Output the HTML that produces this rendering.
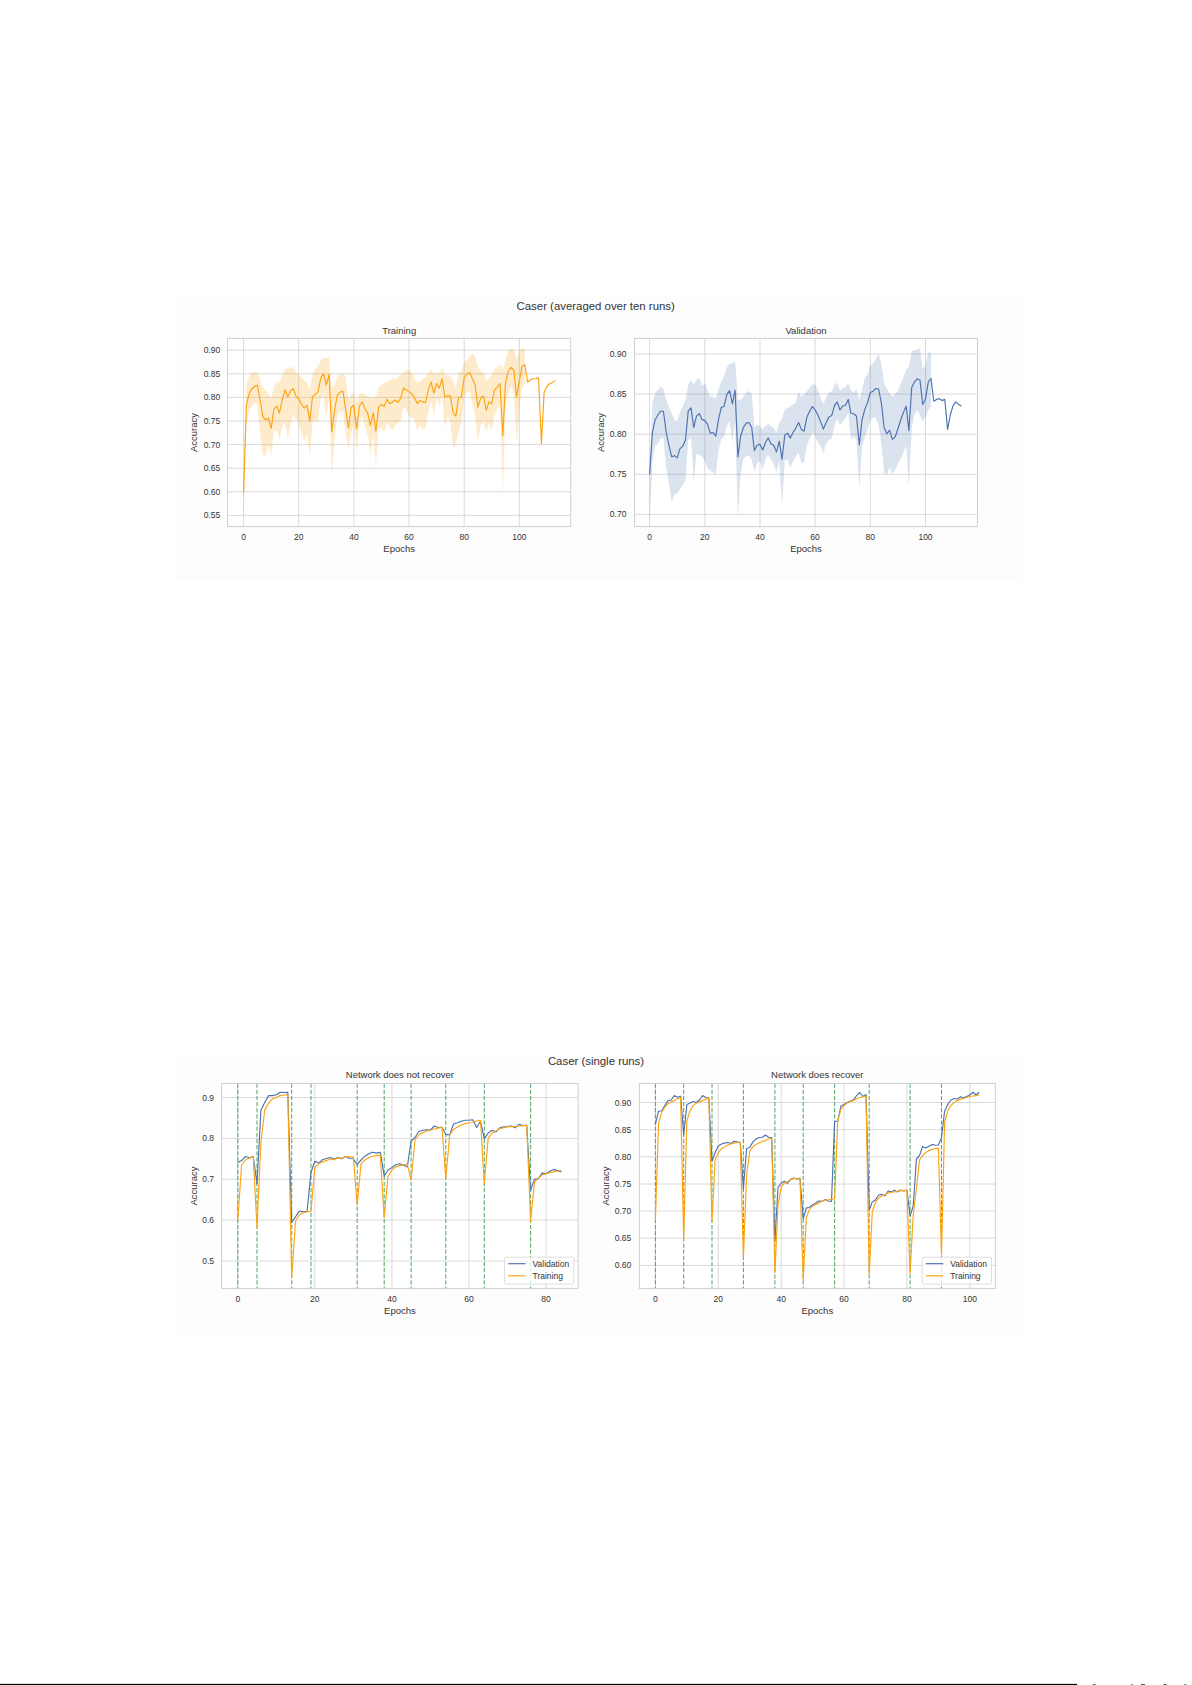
<!DOCTYPE html>
<html><head><meta charset="utf-8"><title>Caser figures</title>
<style>
html,body{margin:0;padding:0;background:#fff;}
body{width:1192px;height:1685px;position:relative;overflow:hidden;font-family:"Liberation Sans",sans-serif;}
svg{position:absolute;left:0;top:0;}
svg text{font-family:"Liberation Sans",sans-serif;}
.rule{position:absolute;left:0;top:1683px;width:1077px;height:2px;background:#000;}
</style></head><body>
<svg width="1192" height="1685" viewBox="0 0 1192 1685">
<rect x="176" y="295" width="847" height="285" fill="#fdfdfd"/>
<rect x="176" y="1056" width="847" height="279" fill="#fdfdfd"/>
<text x="595.7" y="310.2" font-size="11.4" text-anchor="middle" fill="#333333">Caser (averaged over ten runs)</text>
<rect x="227.6" y="338.4" width="343.1" height="188.2" fill="#fff"/>
<line x1="243.6" y1="338.4" x2="243.6" y2="526.6" stroke="#d0d0d0" stroke-width="0.8"/>
<line x1="298.7" y1="338.4" x2="298.7" y2="526.6" stroke="#d0d0d0" stroke-width="0.8"/>
<line x1="353.9" y1="338.4" x2="353.9" y2="526.6" stroke="#d0d0d0" stroke-width="0.8"/>
<line x1="409.0" y1="338.4" x2="409.0" y2="526.6" stroke="#d0d0d0" stroke-width="0.8"/>
<line x1="464.2" y1="338.4" x2="464.2" y2="526.6" stroke="#d0d0d0" stroke-width="0.8"/>
<line x1="519.3" y1="338.4" x2="519.3" y2="526.6" stroke="#d0d0d0" stroke-width="0.8"/>
<line x1="227.6" y1="350.2" x2="570.7" y2="350.2" stroke="#d0d0d0" stroke-width="0.8"/>
<line x1="227.6" y1="373.8" x2="570.7" y2="373.8" stroke="#d0d0d0" stroke-width="0.8"/>
<line x1="227.6" y1="397.4" x2="570.7" y2="397.4" stroke="#d0d0d0" stroke-width="0.8"/>
<line x1="227.6" y1="421.0" x2="570.7" y2="421.0" stroke="#d0d0d0" stroke-width="0.8"/>
<line x1="227.6" y1="444.6" x2="570.7" y2="444.6" stroke="#d0d0d0" stroke-width="0.8"/>
<line x1="227.6" y1="468.2" x2="570.7" y2="468.2" stroke="#d0d0d0" stroke-width="0.8"/>
<line x1="227.6" y1="491.8" x2="570.7" y2="491.8" stroke="#d0d0d0" stroke-width="0.8"/>
<line x1="227.6" y1="515.4" x2="570.7" y2="515.4" stroke="#d0d0d0" stroke-width="0.8"/>
<polygon points="243.6,485.0 246.4,385.0 249.1,376.2 251.9,373.1 254.6,372.2 257.4,372.5 260.1,380.0 262.9,387.5 265.7,390.6 268.4,393.8 271.2,398.8 273.9,387.5 276.7,381.2 279.4,383.1 282.2,375.0 285.0,369.4 287.7,368.1 290.5,367.5 293.2,367.2 296.0,372.5 298.7,375.0 301.5,377.5 304.3,380.0 307.0,382.5 309.8,390.0 312.5,373.8 315.3,368.8 318.0,366.2 320.8,360.0 323.6,358.1 326.3,358.1 329.1,357.2 331.8,387.5 334.6,383.8 337.3,376.2 340.1,374.4 342.9,374.0 345.6,376.2 348.4,400.0 351.1,395.0 353.9,391.9 356.6,402.5 359.4,393.8 362.2,392.5 364.9,394.4 367.7,396.2 370.4,398.8 373.2,397.5 375.9,396.2 378.7,387.5 381.4,385.0 384.2,383.1 387.0,381.9 389.7,380.0 392.5,378.8 395.2,378.8 398.0,376.9 400.7,374.4 403.5,371.9 406.3,370.0 409.0,370.0 411.8,372.5 414.5,378.8 417.3,383.1 420.0,381.2 422.8,378.8 425.6,376.9 428.3,373.1 431.1,369.4 433.8,373.8 436.6,373.1 439.3,373.1 442.1,368.1 444.9,373.8 447.6,375.0 450.4,376.2 453.1,380.6 455.9,387.5 458.6,372.5 461.4,371.2 464.2,361.9 466.9,360.0 469.7,356.2 472.4,353.1 475.2,356.2 477.9,367.5 480.7,371.2 483.5,372.5 486.2,381.2 489.0,377.5 491.7,375.0 494.5,368.8 497.2,367.5 500.0,364.4 502.8,370.0 505.5,360.0 508.3,351.2 511.0,348.8 513.8,348.8 516.5,358.8 519.3,351.2 522.1,348.1 524.8,348.1 524.8,383.8 522.1,387.5 519.3,410.0 516.5,441.2 513.8,393.8 511.0,386.9 508.3,392.5 505.5,407.5 502.8,491.2 500.0,405.0 497.2,410.0 494.5,415.0 491.7,430.0 489.0,422.5 486.2,431.9 483.5,421.2 480.7,425.0 477.9,441.9 475.2,416.2 472.4,403.8 469.7,391.9 466.9,392.5 464.2,397.5 461.4,422.5 458.6,431.2 455.9,443.8 453.1,448.8 450.4,422.5 447.6,416.2 444.9,428.1 442.1,395.0 439.3,406.2 436.6,397.5 433.8,415.0 431.1,400.0 428.3,411.2 425.6,427.5 422.8,430.0 420.0,425.0 417.3,430.6 414.5,420.0 411.8,417.5 409.0,416.2 406.3,410.0 403.5,406.2 400.7,421.2 398.0,422.5 395.2,425.0 392.5,431.2 389.7,426.2 387.0,422.5 384.2,432.5 381.4,427.5 378.7,428.1 375.9,466.2 373.2,435.0 370.4,455.6 367.7,435.0 364.9,426.2 362.2,416.2 359.4,422.5 356.6,452.5 353.9,422.5 351.1,433.8 348.4,448.8 345.6,433.8 342.9,411.2 340.1,411.2 337.3,415.0 334.6,438.8 331.8,476.2 329.1,395.0 326.3,417.5 323.6,396.2 320.8,397.5 318.0,422.5 315.3,421.2 312.5,422.5 309.8,455.6 307.0,433.8 304.3,441.2 301.5,433.8 298.7,422.5 296.0,420.0 293.2,413.8 290.5,425.0 287.7,438.8 285.0,421.2 282.2,427.5 279.4,439.4 276.7,430.0 273.9,431.2 271.2,455.6 268.4,443.8 265.7,455.6 262.9,455.6 260.1,435.0 257.4,405.0 254.6,403.1 251.9,406.2 249.1,411.2 246.4,425.0 243.6,522.5" fill="#fca311" fill-opacity="0.22"/>
<polyline points="243.6,491.9 246.4,405.0 249.1,393.8 251.9,388.8 254.6,386.5 257.4,385.2 260.1,400.0 262.9,416.9 265.7,420.0 268.4,418.1 271.2,428.5 273.9,408.8 276.7,406.2 279.4,413.1 282.2,400.0 285.0,389.8 287.7,396.9 290.5,391.2 293.2,388.5 296.0,396.2 298.7,398.8 301.5,404.4 304.3,408.1 307.0,405.2 309.8,421.2 312.5,396.9 315.3,394.4 318.0,391.9 320.8,378.1 323.6,373.8 326.3,385.0 329.1,374.4 331.8,431.9 334.6,410.0 337.3,395.0 340.1,392.2 342.9,391.0 345.6,408.8 348.4,427.8 351.1,407.5 353.9,405.2 356.6,428.8 359.4,406.2 362.2,401.9 364.9,408.8 367.7,413.1 370.4,425.6 373.2,412.5 375.9,431.2 378.7,406.9 381.4,404.4 384.2,406.2 387.0,399.4 389.7,403.8 392.5,401.9 395.2,400.0 398.0,402.5 400.7,398.1 403.5,388.1 406.3,390.0 409.0,391.9 411.8,393.8 414.5,398.1 417.3,403.5 420.0,400.6 422.8,401.9 425.6,402.5 428.3,390.0 431.1,381.9 433.8,393.1 436.6,383.5 439.3,388.1 442.1,378.8 444.9,397.5 447.6,395.6 450.4,396.0 453.1,412.5 455.9,416.2 458.6,397.5 461.4,396.9 464.2,377.5 466.9,374.0 469.7,372.5 472.4,378.8 475.2,385.0 477.9,407.2 480.7,398.1 483.5,396.0 486.2,410.2 489.0,401.9 491.7,403.8 494.5,390.0 497.2,387.5 500.0,383.5 502.8,435.6 505.5,383.1 508.3,371.2 511.0,367.2 513.8,370.0 516.5,396.9 519.3,381.2 522.1,366.2 524.8,364.8 527.6,382.2 530.3,380.0 533.1,378.8 535.8,378.5 538.6,378.1 541.4,443.8 544.1,392.5 546.9,386.2 549.6,383.8 552.4,382.5 555.1,380.6" fill="none" stroke="#fca311" stroke-width="1.15" stroke-linejoin="round"/>
<rect x="227.6" y="338.4" width="343.1" height="188.2" fill="none" stroke="#cfcfcf" stroke-width="1"/>
<text x="243.6" y="540.2" font-size="8.5" text-anchor="middle" fill="#333333">0</text>
<text x="298.7" y="540.2" font-size="8.5" text-anchor="middle" fill="#333333">20</text>
<text x="353.9" y="540.2" font-size="8.5" text-anchor="middle" fill="#333333">40</text>
<text x="409.0" y="540.2" font-size="8.5" text-anchor="middle" fill="#333333">60</text>
<text x="464.2" y="540.2" font-size="8.5" text-anchor="middle" fill="#333333">80</text>
<text x="519.3" y="540.2" font-size="8.5" text-anchor="middle" fill="#333333">100</text>
<text x="220.2" y="353.2" font-size="8.5" text-anchor="end" fill="#333333">0.90</text>
<text x="220.2" y="376.8" font-size="8.5" text-anchor="end" fill="#333333">0.85</text>
<text x="220.2" y="400.4" font-size="8.5" text-anchor="end" fill="#333333">0.80</text>
<text x="220.2" y="424.0" font-size="8.5" text-anchor="end" fill="#333333">0.75</text>
<text x="220.2" y="447.6" font-size="8.5" text-anchor="end" fill="#333333">0.70</text>
<text x="220.2" y="471.1" font-size="8.5" text-anchor="end" fill="#333333">0.65</text>
<text x="220.2" y="494.7" font-size="8.5" text-anchor="end" fill="#333333">0.60</text>
<text x="220.2" y="518.3" font-size="8.5" text-anchor="end" fill="#333333">0.55</text>
<text x="399.2" y="333.6" font-size="9.5" text-anchor="middle" fill="#333333">Training</text>
<text x="399.2" y="551.9" font-size="9.5" text-anchor="middle" fill="#333333">Epochs</text>
<text transform="translate(196.9,432.5) rotate(-90)" font-size="9.5" text-anchor="middle" fill="#333333">Accuracy</text>
<rect x="634.6" y="338.4" width="342.9" height="188.2" fill="#fff"/>
<line x1="649.6" y1="338.4" x2="649.6" y2="526.6" stroke="#d0d0d0" stroke-width="0.8"/>
<line x1="704.8" y1="338.4" x2="704.8" y2="526.6" stroke="#d0d0d0" stroke-width="0.8"/>
<line x1="760.0" y1="338.4" x2="760.0" y2="526.6" stroke="#d0d0d0" stroke-width="0.8"/>
<line x1="815.1" y1="338.4" x2="815.1" y2="526.6" stroke="#d0d0d0" stroke-width="0.8"/>
<line x1="870.3" y1="338.4" x2="870.3" y2="526.6" stroke="#d0d0d0" stroke-width="0.8"/>
<line x1="925.5" y1="338.4" x2="925.5" y2="526.6" stroke="#d0d0d0" stroke-width="0.8"/>
<line x1="634.6" y1="354.0" x2="977.5" y2="354.0" stroke="#d0d0d0" stroke-width="0.8"/>
<line x1="634.6" y1="394.1" x2="977.5" y2="394.1" stroke="#d0d0d0" stroke-width="0.8"/>
<line x1="634.6" y1="434.2" x2="977.5" y2="434.2" stroke="#d0d0d0" stroke-width="0.8"/>
<line x1="634.6" y1="474.3" x2="977.5" y2="474.3" stroke="#d0d0d0" stroke-width="0.8"/>
<line x1="634.6" y1="514.4" x2="977.5" y2="514.4" stroke="#d0d0d0" stroke-width="0.8"/>
<polygon points="649.6,471.2 652.4,402.5 655.1,393.1 657.9,390.0 660.6,386.6 663.4,388.8 666.2,400.0 668.9,406.9 671.7,413.1 674.4,420.0 677.2,421.2 679.9,412.5 682.7,406.2 685.5,400.0 688.2,385.0 691.0,380.2 693.7,384.4 696.5,380.0 699.3,378.1 702.0,385.6 704.8,383.8 707.5,390.0 710.3,396.2 713.1,396.9 715.8,398.8 718.6,388.8 721.3,381.2 724.1,376.2 726.9,367.5 729.6,363.5 732.4,363.5 735.1,361.0 737.9,400.0 740.6,399.4 743.4,396.9 746.2,391.9 748.9,391.2 751.7,393.1 754.4,427.5 757.2,424.4 760.0,426.2 762.7,428.8 765.5,426.2 768.2,424.0 771.0,426.2 773.8,428.1 776.5,432.5 779.3,422.5 782.0,418.8 784.8,409.4 787.5,408.1 790.3,406.2 793.1,404.4 795.8,402.5 798.6,391.2 801.3,396.9 804.1,394.4 806.9,391.2 809.6,387.5 812.4,384.4 815.1,384.4 817.9,390.0 820.7,398.8 823.4,403.8 826.2,397.5 828.9,392.5 831.7,391.2 834.5,385.0 837.2,382.5 840.0,390.0 842.7,388.8 845.5,386.9 848.2,383.1 851.0,390.0 853.8,393.1 856.5,388.8 859.3,400.0 862.0,390.0 864.8,377.5 867.6,375.0 870.3,365.6 873.1,363.8 875.8,358.8 878.6,353.8 881.4,363.8 884.1,383.8 886.9,388.8 889.6,393.1 892.4,396.9 895.2,393.8 897.9,391.2 900.7,383.8 903.4,377.5 906.2,369.4 908.9,366.9 911.7,351.2 914.5,350.0 917.2,349.4 920.0,348.1 922.7,368.8 925.5,365.0 928.3,352.5 931.0,352.5 931.0,406.2 928.3,410.0 925.5,417.5 922.7,421.2 920.0,415.0 917.2,410.0 914.5,415.0 911.7,427.5 908.9,486.2 906.2,445.0 903.4,452.5 900.7,458.8 897.9,463.8 895.2,470.0 892.4,473.8 889.6,467.5 886.9,475.6 884.1,472.5 881.4,443.8 878.6,425.0 875.8,418.1 873.1,417.5 870.3,420.0 867.6,430.0 864.8,437.5 862.0,447.5 859.3,488.8 856.5,440.0 853.8,436.2 851.0,440.0 848.2,413.1 845.5,418.1 842.7,421.2 840.0,425.0 837.2,418.8 834.5,425.0 831.7,438.8 828.9,440.0 826.2,443.8 823.4,453.1 820.7,446.2 817.9,442.5 815.1,436.2 812.4,432.5 809.6,438.8 806.9,445.0 804.1,462.5 801.3,462.5 798.6,453.1 795.8,456.2 793.1,461.2 790.3,467.5 787.5,460.0 784.8,460.0 782.0,506.2 779.3,461.2 776.5,472.5 773.8,463.8 771.0,460.0 768.2,455.0 765.5,458.8 762.7,469.4 760.0,461.2 757.2,462.5 754.4,471.9 751.7,460.0 748.9,455.6 746.2,456.2 743.4,458.8 740.6,473.8 737.9,517.5 735.1,421.2 732.4,442.5 729.6,421.2 726.9,426.2 724.1,436.9 721.3,438.8 718.6,450.0 715.8,473.8 713.1,472.5 710.3,470.6 707.5,467.5 704.8,461.2 702.0,456.2 699.3,455.0 696.5,453.8 693.7,481.2 691.0,437.5 688.2,440.0 685.5,480.6 682.7,485.0 679.9,489.4 677.2,493.1 674.4,494.4 671.7,502.5 668.9,482.5 666.2,467.5 663.4,437.5 660.6,438.8 657.9,443.8 655.1,446.2 652.4,461.2 649.6,522.5" fill="#4c72b0" fill-opacity="0.2"/>
<polyline points="649.6,474.4 652.4,432.5 655.1,420.0 657.9,415.0 660.6,411.2 663.4,411.2 666.2,432.5 668.9,445.0 671.7,456.9 674.4,455.6 677.2,457.9 679.9,448.8 682.7,446.2 685.5,440.0 688.2,411.2 691.0,407.9 693.7,427.5 696.5,416.2 699.3,413.5 702.0,419.4 704.8,420.6 707.5,424.4 710.3,433.1 713.1,432.5 715.8,436.2 718.6,418.8 721.3,407.5 724.1,406.2 726.9,394.4 729.6,390.6 732.4,403.8 735.1,390.0 737.9,456.9 740.6,436.2 743.4,427.5 746.2,423.1 748.9,422.5 751.7,427.5 754.4,450.6 757.2,445.0 760.0,444.4 762.7,450.0 765.5,442.5 768.2,437.8 771.0,443.8 773.8,445.6 776.5,451.9 779.3,441.2 782.0,459.4 784.8,435.0 787.5,433.1 790.3,438.1 793.1,432.5 795.8,428.1 798.6,422.5 801.3,429.4 804.1,431.2 806.9,416.9 809.6,411.2 812.4,406.5 815.1,410.0 817.9,415.0 820.7,421.9 823.4,429.0 826.2,422.5 828.9,416.9 831.7,415.6 834.5,405.6 837.2,401.9 840.0,410.0 842.7,406.0 845.5,405.2 848.2,399.4 851.0,413.5 853.8,413.8 856.5,416.2 859.3,445.0 862.0,420.0 864.8,409.4 867.6,402.5 870.3,392.5 873.1,391.2 875.8,388.5 878.6,389.0 881.4,403.1 884.1,427.5 886.9,433.8 889.6,430.2 892.4,439.4 895.2,436.9 897.9,428.8 900.7,420.0 903.4,412.5 906.2,406.2 908.9,430.6 911.7,387.5 914.5,381.9 917.2,378.8 920.0,380.2 922.7,404.4 925.5,398.8 928.3,381.9 931.0,378.5 933.8,401.2 936.5,399.4 939.3,398.8 942.1,400.6 944.8,399.4 947.6,429.4 950.3,415.0 953.1,405.6 955.8,401.9 958.6,404.4 961.4,406.0" fill="none" stroke="#4c72b0" stroke-width="1.15" stroke-linejoin="round"/>
<rect x="634.6" y="338.4" width="342.9" height="188.2" fill="none" stroke="#cfcfcf" stroke-width="1"/>
<text x="649.6" y="540.2" font-size="8.5" text-anchor="middle" fill="#333333">0</text>
<text x="704.8" y="540.2" font-size="8.5" text-anchor="middle" fill="#333333">20</text>
<text x="760.0" y="540.2" font-size="8.5" text-anchor="middle" fill="#333333">40</text>
<text x="815.1" y="540.2" font-size="8.5" text-anchor="middle" fill="#333333">60</text>
<text x="870.3" y="540.2" font-size="8.5" text-anchor="middle" fill="#333333">80</text>
<text x="925.5" y="540.2" font-size="8.5" text-anchor="middle" fill="#333333">100</text>
<text x="626.4" y="356.9" font-size="8.5" text-anchor="end" fill="#333333">0.90</text>
<text x="626.4" y="397.1" font-size="8.5" text-anchor="end" fill="#333333">0.85</text>
<text x="626.4" y="437.1" font-size="8.5" text-anchor="end" fill="#333333">0.80</text>
<text x="626.4" y="477.2" font-size="8.5" text-anchor="end" fill="#333333">0.75</text>
<text x="626.4" y="517.4" font-size="8.5" text-anchor="end" fill="#333333">0.70</text>
<text x="806.0" y="333.6" font-size="9.5" text-anchor="middle" fill="#333333">Validation</text>
<text x="806.0" y="551.9" font-size="9.5" text-anchor="middle" fill="#333333">Epochs</text>
<text transform="translate(604.3,432.5) rotate(-90)" font-size="9.5" text-anchor="middle" fill="#333333">Accuracy</text>
<text x="596" y="1065.2" font-size="11.4" text-anchor="middle" fill="#333333">Caser (single runs)</text>
<rect x="221.6" y="1083.5" width="356.5" height="204.9" fill="#fff"/>
<line x1="237.8" y1="1083.5" x2="237.8" y2="1288.4" stroke="#d0d0d0" stroke-width="0.8"/>
<line x1="314.8" y1="1083.5" x2="314.8" y2="1288.4" stroke="#d0d0d0" stroke-width="0.8"/>
<line x1="391.9" y1="1083.5" x2="391.9" y2="1288.4" stroke="#d0d0d0" stroke-width="0.8"/>
<line x1="468.9" y1="1083.5" x2="468.9" y2="1288.4" stroke="#d0d0d0" stroke-width="0.8"/>
<line x1="546.0" y1="1083.5" x2="546.0" y2="1288.4" stroke="#d0d0d0" stroke-width="0.8"/>
<line x1="221.6" y1="1097.5" x2="578.1" y2="1097.5" stroke="#d0d0d0" stroke-width="0.8"/>
<line x1="221.6" y1="1138.4" x2="578.1" y2="1138.4" stroke="#d0d0d0" stroke-width="0.8"/>
<line x1="221.6" y1="1179.3" x2="578.1" y2="1179.3" stroke="#d0d0d0" stroke-width="0.8"/>
<line x1="221.6" y1="1220.1" x2="578.1" y2="1220.1" stroke="#d0d0d0" stroke-width="0.8"/>
<line x1="221.6" y1="1261.0" x2="578.1" y2="1261.0" stroke="#d0d0d0" stroke-width="0.8"/>
<line x1="237.8" y1="1083.5" x2="237.8" y2="1288.4" stroke="#55a868" stroke-width="1.05" stroke-dasharray="4.3 1.85"/>
<line x1="257.0" y1="1083.5" x2="257.0" y2="1288.4" stroke="#55a868" stroke-width="1.05" stroke-dasharray="4.3 1.85"/>
<line x1="291.7" y1="1083.5" x2="291.7" y2="1288.4" stroke="#55a868" stroke-width="1.05" stroke-dasharray="4.3 1.85"/>
<line x1="311.0" y1="1083.5" x2="311.0" y2="1288.4" stroke="#55a868" stroke-width="1.05" stroke-dasharray="4.3 1.85"/>
<line x1="357.2" y1="1083.5" x2="357.2" y2="1288.4" stroke="#55a868" stroke-width="1.05" stroke-dasharray="4.3 1.85"/>
<line x1="384.2" y1="1083.5" x2="384.2" y2="1288.4" stroke="#55a868" stroke-width="1.05" stroke-dasharray="4.3 1.85"/>
<line x1="411.1" y1="1083.5" x2="411.1" y2="1288.4" stroke="#55a868" stroke-width="1.05" stroke-dasharray="4.3 1.85"/>
<line x1="445.8" y1="1083.5" x2="445.8" y2="1288.4" stroke="#55a868" stroke-width="1.05" stroke-dasharray="4.3 1.85"/>
<line x1="484.3" y1="1083.5" x2="484.3" y2="1288.4" stroke="#55a868" stroke-width="1.05" stroke-dasharray="4.3 1.85"/>
<line x1="530.6" y1="1083.5" x2="530.6" y2="1288.4" stroke="#55a868" stroke-width="1.05" stroke-dasharray="4.3 1.85"/>
<polyline points="237.8,1162.5 241.6,1160.6 245.5,1156.5 249.3,1157.8 253.2,1156.5 257.0,1183.8 260.9,1110.6 264.7,1102.5 268.6,1095.6 272.4,1095.6 276.3,1094.8 280.1,1092.2 284.0,1092.5 287.8,1092.2 291.7,1222.5 295.5,1216.9 299.4,1211.0 303.3,1211.9 307.1,1211.2 311.0,1172.5 314.8,1161.2 318.7,1163.1 322.5,1159.8 326.4,1158.5 330.2,1157.5 334.1,1159.0 337.9,1157.5 341.8,1158.8 345.6,1156.5 349.5,1158.5 353.3,1158.8 357.2,1164.4 361.0,1160.0 364.9,1156.2 368.8,1153.8 372.6,1152.2 376.5,1153.1 380.3,1152.2 384.2,1176.2 388.0,1170.0 391.9,1167.5 395.7,1164.8 399.6,1163.8 403.4,1165.0 407.3,1166.9 411.1,1141.2 415.0,1137.5 418.8,1131.5 422.7,1130.2 426.5,1129.8 430.4,1130.0 434.3,1126.0 438.1,1127.5 442.0,1127.2 445.8,1134.4 449.7,1135.0 453.5,1124.0 457.4,1122.8 461.2,1121.2 465.1,1120.2 468.9,1120.2 472.8,1119.8 476.6,1127.5 480.5,1121.2 484.3,1138.8 488.2,1133.1 492.0,1130.2 495.9,1131.9 499.8,1127.8 503.6,1126.9 507.5,1126.5 511.3,1126.0 515.2,1127.8 519.0,1124.4 522.9,1125.6 526.7,1125.2 530.6,1190.0 534.4,1179.4 538.3,1178.8 542.1,1173.1 546.0,1173.8 549.8,1171.2 553.7,1169.4 557.5,1170.6 561.4,1171.9" fill="none" stroke="#4c72b0" stroke-width="1.15" stroke-linejoin="round"/>
<polyline points="237.8,1220.0 241.6,1165.0 245.5,1160.0 249.3,1158.1 253.2,1156.5 257.0,1227.5 260.9,1142.5 264.7,1110.0 268.6,1103.1 272.4,1098.8 276.3,1097.5 280.1,1095.6 284.0,1095.0 287.8,1094.4 291.7,1277.5 295.5,1221.2 299.4,1215.0 303.3,1212.5 307.1,1211.9 311.0,1211.2 314.8,1167.5 318.7,1163.8 322.5,1161.9 326.4,1160.6 330.2,1159.0 334.1,1159.8 337.9,1158.1 341.8,1158.1 345.6,1156.5 349.5,1156.9 353.3,1156.9 357.2,1204.4 361.0,1163.8 364.9,1160.0 368.8,1157.5 372.6,1156.2 376.5,1155.6 380.3,1155.0 384.2,1217.5 388.0,1176.2 391.9,1170.0 395.7,1166.9 399.6,1165.6 403.4,1165.0 407.3,1164.4 411.1,1180.0 415.0,1140.0 418.8,1135.0 422.7,1132.5 426.5,1131.2 430.4,1130.2 434.3,1129.0 438.1,1128.1 442.0,1127.2 445.8,1178.8 449.7,1135.0 453.5,1129.4 457.4,1126.9 461.2,1125.0 465.1,1123.8 468.9,1122.8 472.8,1122.5 476.6,1121.0 480.5,1120.2 484.3,1183.8 488.2,1138.1 492.0,1133.1 495.9,1131.0 499.8,1128.8 503.6,1127.8 507.5,1126.9 511.3,1126.5 515.2,1126.8 519.0,1126.0 522.9,1125.6 526.7,1125.2 530.6,1221.2 534.4,1182.5 538.3,1178.1 542.1,1175.0 546.0,1173.8 549.8,1172.8 553.7,1171.9 557.5,1171.0 561.4,1170.6" fill="none" stroke="#fca311" stroke-width="1.15" stroke-linejoin="round"/>
<rect x="504.5" y="1257.2" width="69.3" height="26.9" rx="1.5" fill="#fff" fill-opacity="0.8" stroke="#d6d6d6" stroke-width="0.8"/>
<line x1="508.1" y1="1263.7" x2="525.6" y2="1263.7" stroke="#4c72b0" stroke-width="1.15"/>
<line x1="508.1" y1="1275.8" x2="525.6" y2="1275.8" stroke="#fca311" stroke-width="1.15"/>
<text x="532.5" y="1266.8" font-size="8.5" fill="#333333">Validation</text>
<text x="532.5" y="1278.9" font-size="8.5" fill="#333333">Training</text>
<rect x="221.6" y="1083.5" width="356.5" height="204.9" fill="none" stroke="#cfcfcf" stroke-width="1"/>
<text x="237.8" y="1302.0" font-size="8.5" text-anchor="middle" fill="#333333">0</text>
<text x="314.8" y="1302.0" font-size="8.5" text-anchor="middle" fill="#333333">20</text>
<text x="391.9" y="1302.0" font-size="8.5" text-anchor="middle" fill="#333333">40</text>
<text x="468.9" y="1302.0" font-size="8.5" text-anchor="middle" fill="#333333">60</text>
<text x="546.0" y="1302.0" font-size="8.5" text-anchor="middle" fill="#333333">80</text>
<text x="214.1" y="1100.5" font-size="8.5" text-anchor="end" fill="#333333">0.9</text>
<text x="214.1" y="1141.3" font-size="8.5" text-anchor="end" fill="#333333">0.8</text>
<text x="214.1" y="1182.2" font-size="8.5" text-anchor="end" fill="#333333">0.7</text>
<text x="214.1" y="1223.1" font-size="8.5" text-anchor="end" fill="#333333">0.6</text>
<text x="214.1" y="1264.0" font-size="8.5" text-anchor="end" fill="#333333">0.5</text>
<text x="399.9" y="1078.2" font-size="9.5" text-anchor="middle" fill="#333333">Network does not recover</text>
<text x="399.9" y="1313.7" font-size="9.5" text-anchor="middle" fill="#333333">Epochs</text>
<text transform="translate(196.9,1186.0) rotate(-90)" font-size="9.5" text-anchor="middle" fill="#333333">Accuracy</text>
<rect x="639.4" y="1083.5" width="355.9" height="204.9" fill="#fff"/>
<line x1="655.4" y1="1083.5" x2="655.4" y2="1288.4" stroke="#d0d0d0" stroke-width="0.8"/>
<line x1="718.3" y1="1083.5" x2="718.3" y2="1288.4" stroke="#d0d0d0" stroke-width="0.8"/>
<line x1="781.2" y1="1083.5" x2="781.2" y2="1288.4" stroke="#d0d0d0" stroke-width="0.8"/>
<line x1="844.0" y1="1083.5" x2="844.0" y2="1288.4" stroke="#d0d0d0" stroke-width="0.8"/>
<line x1="906.9" y1="1083.5" x2="906.9" y2="1288.4" stroke="#d0d0d0" stroke-width="0.8"/>
<line x1="969.8" y1="1083.5" x2="969.8" y2="1288.4" stroke="#d0d0d0" stroke-width="0.8"/>
<line x1="639.4" y1="1102.5" x2="995.3" y2="1102.5" stroke="#d0d0d0" stroke-width="0.8"/>
<line x1="639.4" y1="1129.7" x2="995.3" y2="1129.7" stroke="#d0d0d0" stroke-width="0.8"/>
<line x1="639.4" y1="1156.8" x2="995.3" y2="1156.8" stroke="#d0d0d0" stroke-width="0.8"/>
<line x1="639.4" y1="1184.0" x2="995.3" y2="1184.0" stroke="#d0d0d0" stroke-width="0.8"/>
<line x1="639.4" y1="1211.1" x2="995.3" y2="1211.1" stroke="#d0d0d0" stroke-width="0.8"/>
<line x1="639.4" y1="1238.2" x2="995.3" y2="1238.2" stroke="#d0d0d0" stroke-width="0.8"/>
<line x1="639.4" y1="1265.4" x2="995.3" y2="1265.4" stroke="#d0d0d0" stroke-width="0.8"/>
<line x1="655.4" y1="1083.5" x2="655.4" y2="1288.4" stroke="#55a868" stroke-width="1.05" stroke-dasharray="4.3 1.85"/>
<line x1="683.7" y1="1083.5" x2="683.7" y2="1288.4" stroke="#55a868" stroke-width="1.05" stroke-dasharray="4.3 1.85"/>
<line x1="712.0" y1="1083.5" x2="712.0" y2="1288.4" stroke="#55a868" stroke-width="1.05" stroke-dasharray="4.3 1.85"/>
<line x1="743.4" y1="1083.5" x2="743.4" y2="1288.4" stroke="#55a868" stroke-width="1.05" stroke-dasharray="4.3 1.85"/>
<line x1="774.9" y1="1083.5" x2="774.9" y2="1288.4" stroke="#55a868" stroke-width="1.05" stroke-dasharray="4.3 1.85"/>
<line x1="803.2" y1="1083.5" x2="803.2" y2="1288.4" stroke="#55a868" stroke-width="1.05" stroke-dasharray="4.3 1.85"/>
<line x1="834.6" y1="1083.5" x2="834.6" y2="1288.4" stroke="#55a868" stroke-width="1.05" stroke-dasharray="4.3 1.85"/>
<line x1="869.2" y1="1083.5" x2="869.2" y2="1288.4" stroke="#55a868" stroke-width="1.05" stroke-dasharray="4.3 1.85"/>
<line x1="910.1" y1="1083.5" x2="910.1" y2="1288.4" stroke="#55a868" stroke-width="1.05" stroke-dasharray="4.3 1.85"/>
<line x1="941.5" y1="1083.5" x2="941.5" y2="1288.4" stroke="#55a868" stroke-width="1.05" stroke-dasharray="4.3 1.85"/>
<polyline points="655.4,1124.4 658.5,1111.2 661.7,1111.0 664.8,1105.6 668.0,1100.6 671.1,1100.0 674.3,1095.6 677.4,1097.2 680.6,1096.2 683.7,1135.0 686.8,1104.8 690.0,1103.1 693.1,1101.5 696.3,1102.5 699.4,1100.0 702.6,1095.6 705.7,1097.5 708.8,1098.1 712.0,1161.2 715.1,1152.5 718.3,1146.0 721.4,1144.0 724.6,1143.1 727.7,1142.5 730.9,1143.5 734.0,1141.2 737.1,1141.9 740.3,1142.5 743.4,1188.8 746.6,1148.5 749.7,1147.5 752.9,1141.9 756.0,1139.0 759.2,1137.5 762.3,1137.2 765.4,1135.0 768.6,1137.2 771.7,1137.5 774.9,1241.2 778.0,1187.5 781.2,1183.1 784.3,1181.2 787.4,1183.5 790.6,1179.4 793.7,1178.1 796.9,1179.0 800.0,1178.1 803.2,1218.8 806.3,1208.1 809.5,1207.2 812.6,1204.8 815.7,1203.1 818.9,1201.0 822.0,1201.2 825.2,1199.4 828.3,1201.0 831.5,1201.5 834.6,1121.2 837.8,1121.2 840.9,1106.0 844.0,1104.4 847.2,1102.5 850.3,1101.0 853.5,1099.8 856.6,1095.6 859.8,1092.5 862.9,1096.5 866.0,1094.4 869.2,1210.0 872.3,1201.9 875.5,1200.0 878.6,1195.0 881.8,1194.4 884.9,1196.0 888.1,1191.0 891.2,1191.9 894.3,1190.2 897.5,1191.9 900.6,1190.0 903.8,1191.0 906.9,1190.2 910.1,1215.6 913.2,1206.2 916.4,1159.0 919.5,1155.6 922.6,1146.5 925.8,1148.1 928.9,1146.2 932.1,1144.4 935.2,1145.2 938.4,1145.0 941.5,1137.5 944.6,1111.2 947.8,1104.4 950.9,1100.0 954.1,1098.5 957.2,1099.0 960.4,1096.9 963.5,1097.8 966.7,1096.5 969.8,1095.0 972.9,1092.2 976.1,1095.0 979.2,1092.2" fill="none" stroke="#4c72b0" stroke-width="1.15" stroke-linejoin="round"/>
<polyline points="655.4,1220.4 658.5,1123.8 661.7,1112.2 664.8,1107.2 668.0,1103.8 671.1,1101.9 674.3,1100.6 677.4,1098.8 680.6,1097.5 683.7,1240.0 686.8,1121.2 690.0,1110.6 693.1,1105.6 696.3,1103.1 699.4,1101.9 702.6,1100.6 705.7,1099.4 708.8,1097.5 712.0,1221.2 715.1,1160.0 718.3,1152.5 721.4,1148.8 724.6,1146.9 727.7,1145.0 730.9,1144.0 734.0,1143.1 737.1,1142.5 740.3,1142.2 743.4,1257.5 746.6,1175.0 749.7,1151.2 752.9,1146.9 756.0,1144.4 759.2,1142.8 762.3,1141.5 765.4,1140.6 768.6,1139.0 771.7,1138.5 774.9,1272.5 778.0,1205.0 781.2,1186.9 784.3,1183.1 787.4,1181.9 790.6,1179.4 793.7,1178.5 796.9,1178.8 800.0,1178.8 803.2,1280.0 806.3,1217.5 809.5,1209.4 812.6,1206.2 815.7,1204.4 818.9,1203.1 822.0,1201.2 825.2,1200.0 828.3,1199.8 831.5,1199.4 834.6,1198.8 837.8,1120.6 840.9,1109.4 844.0,1105.6 847.2,1103.1 850.3,1101.5 853.5,1100.6 856.6,1098.8 859.8,1097.5 862.9,1096.9 866.0,1096.0 869.2,1275.0 872.3,1211.2 875.5,1202.5 878.6,1198.1 881.8,1196.0 884.9,1194.8 888.1,1193.1 891.2,1192.2 894.3,1191.9 897.5,1191.2 900.6,1190.6 903.8,1190.6 906.9,1190.2 910.1,1273.1 913.2,1215.0 916.4,1188.8 919.5,1160.0 922.6,1155.6 925.8,1152.5 928.9,1150.6 932.1,1149.4 935.2,1148.5 938.4,1148.1 941.5,1255.0 944.6,1122.5 947.8,1110.6 950.9,1105.6 954.1,1102.5 957.2,1100.6 960.4,1099.4 963.5,1098.5 966.7,1097.5 969.8,1096.5 972.9,1096.0 976.1,1095.6 979.2,1095.0" fill="none" stroke="#fca311" stroke-width="1.15" stroke-linejoin="round"/>
<rect x="922.2" y="1257.2" width="69.3" height="26.9" rx="1.5" fill="#fff" fill-opacity="0.8" stroke="#d6d6d6" stroke-width="0.8"/>
<line x1="925.8" y1="1263.7" x2="943.3" y2="1263.7" stroke="#4c72b0" stroke-width="1.15"/>
<line x1="925.8" y1="1275.8" x2="943.3" y2="1275.8" stroke="#fca311" stroke-width="1.15"/>
<text x="950.2" y="1266.8" font-size="8.5" fill="#333333">Validation</text>
<text x="950.2" y="1278.9" font-size="8.5" fill="#333333">Training</text>
<rect x="639.4" y="1083.5" width="355.9" height="204.9" fill="none" stroke="#cfcfcf" stroke-width="1"/>
<text x="655.4" y="1302.0" font-size="8.5" text-anchor="middle" fill="#333333">0</text>
<text x="718.3" y="1302.0" font-size="8.5" text-anchor="middle" fill="#333333">20</text>
<text x="781.2" y="1302.0" font-size="8.5" text-anchor="middle" fill="#333333">40</text>
<text x="844.0" y="1302.0" font-size="8.5" text-anchor="middle" fill="#333333">60</text>
<text x="906.9" y="1302.0" font-size="8.5" text-anchor="middle" fill="#333333">80</text>
<text x="969.8" y="1302.0" font-size="8.5" text-anchor="middle" fill="#333333">100</text>
<text x="631.3" y="1105.5" font-size="8.5" text-anchor="end" fill="#333333">0.90</text>
<text x="631.3" y="1132.6" font-size="8.5" text-anchor="end" fill="#333333">0.85</text>
<text x="631.3" y="1159.8" font-size="8.5" text-anchor="end" fill="#333333">0.80</text>
<text x="631.3" y="1186.9" font-size="8.5" text-anchor="end" fill="#333333">0.75</text>
<text x="631.3" y="1214.1" font-size="8.5" text-anchor="end" fill="#333333">0.70</text>
<text x="631.3" y="1241.2" font-size="8.5" text-anchor="end" fill="#333333">0.65</text>
<text x="631.3" y="1268.4" font-size="8.5" text-anchor="end" fill="#333333">0.60</text>
<text x="817.3" y="1078.2" font-size="9.5" text-anchor="middle" fill="#333333">Network does recover</text>
<text x="817.3" y="1313.7" font-size="9.5" text-anchor="middle" fill="#333333">Epochs</text>
<text transform="translate(609.0,1186.0) rotate(-90)" font-size="9.5" text-anchor="middle" fill="#333333">Accuracy</text>
<rect x="0" y="1683.85" width="1077" height="1.15" fill="#000"/>
<rect x="1093.0" y="1684.2" width="2.5" height="0.8" fill="#333"/>
<rect x="1131.5" y="1684.2" width="1.3" height="0.8" fill="#333"/>
<rect x="1141.0" y="1684.2" width="4.0" height="0.8" fill="#333"/>
<rect x="1163.5" y="1684.2" width="3.0" height="0.8" fill="#333"/>
<rect x="1184.5" y="1684.2" width="1.5" height="0.8" fill="#333"/>
</svg>
</body></html>
